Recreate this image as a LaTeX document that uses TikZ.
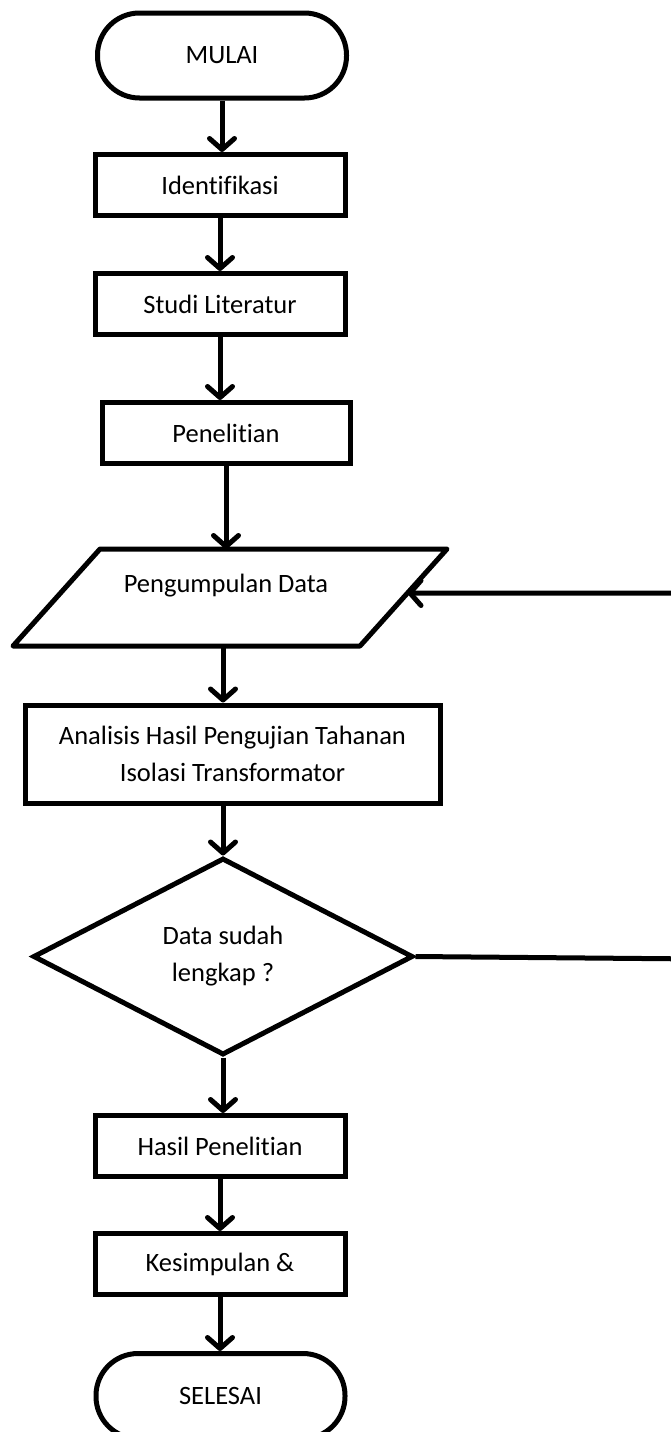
\documentclass[tikz,border=0pt]{standalone}
\usepackage{fontspec}
\setmainfont[Ligatures=NoCommon]{Carlito}
\usetikzlibrary{arrows.meta,shapes.geometric}
\begin{document}
\begin{tikzpicture}[x=1pt,y=-1pt,
  every node/.style={font=\fontsize{26.5}{37}\selectfont},
  line/.style={line width=5pt, line join=round},
  proc/.style={draw, line width=5pt, rectangle, minimum width=250pt, minimum height=61pt, inner sep=0pt, align=center},
  term/.style={draw, line width=5pt, rounded corners=42pt, minimum width=249pt, minimum height=85pt, inner sep=0pt},
  decision/.style={draw, diamond, line width=5pt, minimum width=380pt, minimum height=197pt, inner sep=0pt, align=center},
  conn/.style={line width=5pt, -{Straight Barb[length=11pt,width=25pt,line cap=round,line join=round]}},
]
\useasboundingbox (0,0) rectangle (671,1432);
\clip (0,0) rectangle (671,1432);

\node[term] (mulai) at (222,55.5) {MULAI};
\node[proc] (ident) at (220,185) {Identifikasi};
\node[proc] (studi) at (220,304) {Studi Literatur};
\node[proc,minimum width=248pt] (pen) at (226,433) {Penelitian};

\coordinate (p1) at (100,549);
\coordinate (p2) at (447,549);
\coordinate (p3) at (360,646);
\coordinate (p4) at (13,646);
\draw[line] (p1) -- (p2) -- (p3) -- (p4) -- cycle;
\node[anchor=base] (pdata) at (226,592) {Pengumpulan Data};
\coordinate (ptop) at (223,549);
\coordinate (pbot) at (223,646);
\coordinate (pin) at (407.5,593);

\node[proc,minimum width=415pt,minimum height=98pt] (anal) at (232.5,754) {Analisis Hasil Pengujian Tahanan\\Isolasi Transformator};
\node[decision] (dia) at (223,956.5) {Data sudah\\lengkap ?};
\node[proc] (hasil) at (220,1146) {Hasil Penelitian};
\node[proc] (kes) at (220,1264) {Kesimpulan \&};
\node[term] (sel) at (220.5,1396) {SELESAI};

\coordinate (loopdown) at (700,959);

\draw[conn] (mulai.south) -- (mulai.south |- ident.north);
\draw[conn] (ident.south) -- (ident.south |- studi.north);
\draw[conn] (studi.south) -- (studi.south |- pen.north);
\draw[conn] (pen.south) -- (pen.south |- ptop);
\draw[conn] (pbot) -- (pbot |- anal.north);
\draw[conn] (dia.north |- anal.south) -- (dia.north);
\draw[conn] (dia.south) -- (dia.south |- hasil.north);
\draw[conn] (hasil.south) -- (hasil.south |- kes.north);
\draw[conn] (kes.south) -- (kes.south |- sel.north);
\draw[conn] (dia.east) -- (loopdown) |- (pin);
\end{tikzpicture}
\end{document}
